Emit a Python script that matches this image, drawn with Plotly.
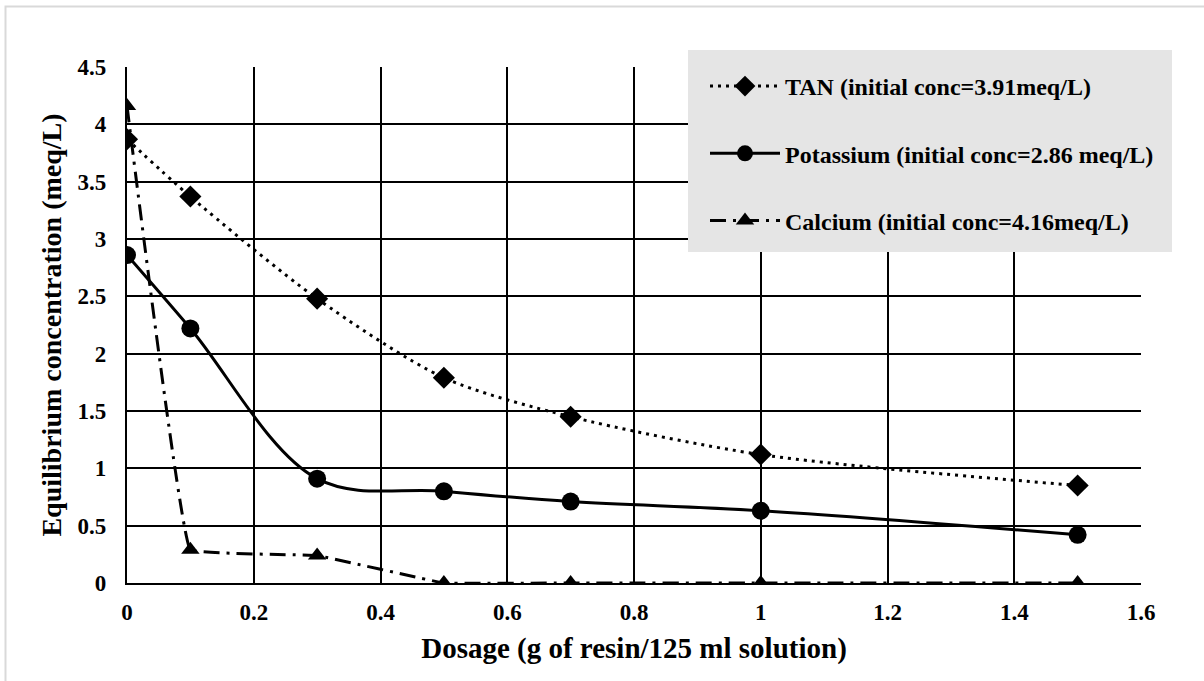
import plotly.graph_objects as go

# Resin dosage (g per 125 ml solution)
dosage = [0, 0.1, 0.3, 0.5, 0.7, 1.0, 1.5]

# Equilibrium concentrations (meq/L)
tan_conc = [3.87, 3.37, 2.48, 1.79, 1.45, 1.12, 0.85]
potassium_conc = [2.86, 2.22, 0.91, 0.80, 0.71, 0.63, 0.42]
calcium_conc = [4.16, 0.29, 0.24, 0.0, 0.0, 0.0, 0.0]

series_names = [
    "TAN (initial conc=3.91meq/L)",
    "Potassium (initial conc=2.86 meq/L)",
    "Calcium (initial conc=4.16meq/L)",
]

x_ticks = [0, 0.2, 0.4, 0.6, 0.8, 1.0, 1.2, 1.4, 1.6]
x_tick_labels = ["0", "0.2", "0.4", "0.6", "0.8", "1", "1.2", "1.4", "1.6"]
y_ticks = [0, 0.5, 1, 1.5, 2, 2.5, 3, 3.5, 4, 4.5]
y_tick_labels = ["0", "0.5", "1", "1.5", "2", "2.5", "3", "3.5", "4", "4.5"]

FONT = "Liberation Serif, Times New Roman, serif"


def bold(items):
    return ["<b>%s</b>" % s for s in items]


fig = go.Figure()

fig.add_trace(go.Scatter(
    x=dosage, y=tan_conc, name="<b>%s</b>" % series_names[0], legendgroup="tan",
    mode="lines+markers",
    line=dict(color="black", width=3, dash="3px,5px", shape="spline", smoothing=0.8),
    marker=dict(symbol="diamond", size=17, color="black"),
))
fig.add_trace(go.Scatter(
    x=dosage, y=potassium_conc, name="<b>%s</b>" % series_names[1], legendgroup="k",
    mode="lines+markers",
    line=dict(color="black", width=3, shape="spline", smoothing=1.0),
    marker=dict(symbol="circle", size=18, color="black"),
))
fig.add_trace(go.Scatter(
    x=dosage, y=calcium_conc, name="<b>%s</b>" % series_names[2], legendgroup="ca",
    mode="lines+markers",
    line=dict(color="black", width=3, dash="16px,7px,3px,7px", shape="spline", smoothing=0.15),
    marker=dict(symbol="triangle-up", size=16, color="black"),
))

L, R, T, B = 127, 63, 67, 98
W, H = 1204, 681
pw, ph = W - L - R, H - T - B


def px_x(p):
    return (p - L) / pw


def px_y(p):
    return (H - B - p) / ph


shapes = [
    # outer frame
    dict(type="rect", xref="paper", yref="paper",
         x0=px_x(5.5), x1=px_x(1215), y0=px_y(690), y1=px_y(6.5),
         line=dict(color="#d9d9d9", width=2), fillcolor="rgba(0,0,0,0)", layer="below"),
    # legend panel
    dict(type="rect", xref="paper", yref="paper",
         x0=px_x(688), x1=px_x(1172), y0=px_y(252), y1=px_y(50),
         line=dict(width=0), fillcolor="#e5e5e5", layer="above"),
]

fig.update_layout(
    width=W, height=H,
    margin=dict(l=L, r=R, t=T, b=B),
    paper_bgcolor="white", plot_bgcolor="white",
    font=dict(family=FONT, color="black"),
    shapes=shapes,
    showlegend=True,
    legend=dict(
        x=px_x(705), y=px_y(64), xanchor="left", yanchor="top",
        bgcolor="rgba(0,0,0,0)", borderwidth=0,
        font=dict(family=FONT, size=24, color="black"),
        traceorder="grouped", tracegroupgap=33, itemwidth=70,
    ),
    xaxis=dict(
        range=[0, 1.6], tickvals=x_ticks, ticktext=bold(x_tick_labels),
        showgrid=True, gridcolor="black", gridwidth=1.8,
        showline=True, linecolor="black", linewidth=2.2,
        zeroline=False, ticks="", ticklabelstandoff=7,
        tickfont=dict(family=FONT, size=23, color="black"),
        title=dict(text="<b>Dosage (g of resin/125 ml solution)</b>",
                   font=dict(family=FONT, size=29, color="black"), standoff=14),
    ),
    yaxis=dict(
        range=[0, 4.5], tickvals=y_ticks, ticktext=bold(y_tick_labels),
        showgrid=True, gridcolor="black", gridwidth=1.8,
        showline=True, linecolor="black", linewidth=2.2,
        zeroline=False, ticks="", ticklabelstandoff=14,
        tickfont=dict(family=FONT, size=23, color="black"),
        title=dict(text="<b>Equilibrium concentration (meq/L)</b>",
                   font=dict(family=FONT, size=28, color="black"), standoff=8),
    ),
)

fig.write_html("out.html")
